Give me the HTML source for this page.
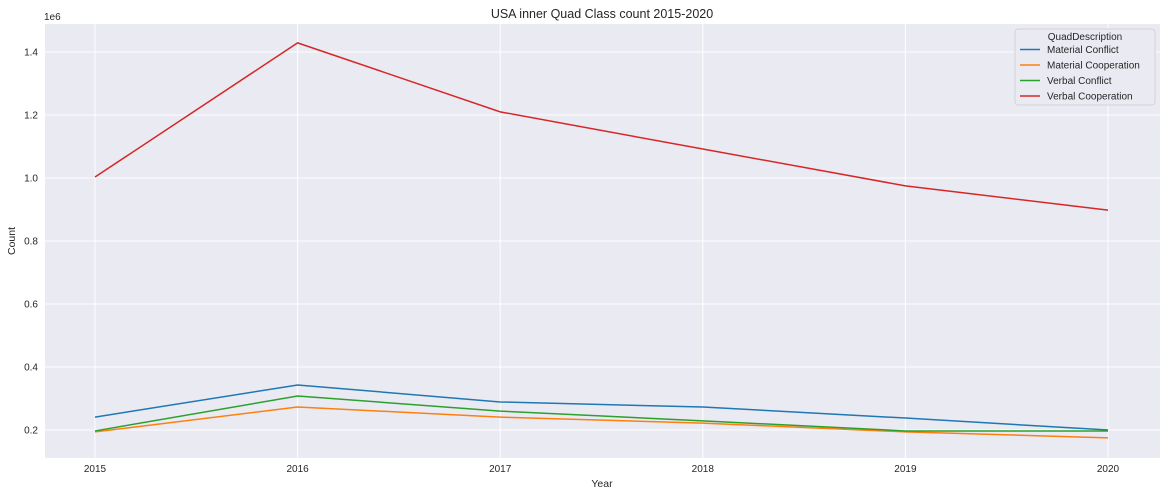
<!DOCTYPE html>
<html><head><meta charset="utf-8"><style>
body{margin:0;background:#fff;font-family:"Liberation Sans","DejaVu Sans",sans-serif;}
svg text{font-family:"Liberation Sans","DejaVu Sans",sans-serif;fill:#262626;}
</style></head><body>
<svg id="chart" width="1167" height="496" xmlns="http://www.w3.org/2000/svg">
<text x="602" y="18" text-anchor="middle" font-size="12.5">USA inner Quad Class count 2015-2020</text>
<rect x="45" y="24" width="1115" height="434" fill="#eaeaf2"/>
<g id="grid"></g><g id="lines"></g>
<text x="44" y="20" font-size="10">1e6</text>
<text x="602" y="487" text-anchor="middle" font-size="10.5">Year</text>
<text transform="translate(15,241) rotate(-90)" text-anchor="middle" font-size="10.5">Count</text>
<g>
<rect x="1015" y="29" width="140" height="76" rx="3" fill="#eaeaf2" stroke="#ccc" stroke-width="0.8"/>
<text x="1085" y="40" text-anchor="middle" font-size="10">QuadDescription</text>
<g id="legend-entries"></g>
</g>
</svg>
<script>
const years=[2015,2016,2017,2018,2019,2020];
const seriesNames=["Material Conflict","Material Cooperation","Verbal Conflict","Verbal Cooperation"];
const materialConflict=[0.241,0.343,0.289,0.273,0.238,0.200];
const materialCooperation=[0.194,0.273,0.241,0.222,0.194,0.175];
const verbalConflict=[0.197,0.308,0.260,0.229,0.197,0.197];
const verbalCooperation=[1.003,1.429,1.210,1.092,0.975,0.898];
const yTicks=[0.2,0.4,0.6,0.8,1.0,1.2,1.4];
const colors=["#1f77b4","#ff7f0e","#2ca02c","#d62728"];
const allSeries=[materialConflict,materialCooperation,verbalConflict,verbalCooperation];
const NS="http://www.w3.org/2000/svg";
const xS=v=>95+(v-2015)*(1108-95)/5;
const yS=v=>430-(v-0.2)*(378/1.2);
function mk(t,a,p){const e=document.createElementNS(NS,t);for(const k in a)e.setAttribute(k,a[k]);p.appendChild(e);return e;}
const g=document.getElementById('grid'),svg=document.getElementById('chart');
years.forEach(y=>{const l=mk('line',{x1:xS(y),x2:xS(y),y1:24,y2:458,stroke:'#fff','stroke-width':1},g);


const t=mk('text',{x:xS(y),y:472,'text-anchor':'middle','font-size':10},svg);t.textContent=y;

});
yTicks.forEach(v=>{const l=mk('line',{x1:45,x2:1160,y1:yS(v),y2:yS(v),stroke:'#fff','stroke-width':1},g);


const t=mk('text',{x:38,y:yS(v)+3.5,'text-anchor':'end','font-size':10},svg);t.textContent=v.toFixed(1);

});
const L=document.getElementById('lines'),LE=document.getElementById('legend-entries');
allSeries.forEach((s,i)=>{const p=mk('polyline',{points:s.map((v,j)=>xS(years[j])+','+yS(v)).join(' '),fill:'none',stroke:colors[i],'stroke-width':1.5},L);


const y=53+i*15.5;
const ll=mk('line',{x1:1020,x2:1040,y1:y-3.5,y2:y-3.5,stroke:colors[i],'stroke-width':1.5},LE);


const t=mk('text',{x:1047,y:y,'font-size':10},LE);t.textContent=seriesNames[i];

});
</script>
</body></html>
